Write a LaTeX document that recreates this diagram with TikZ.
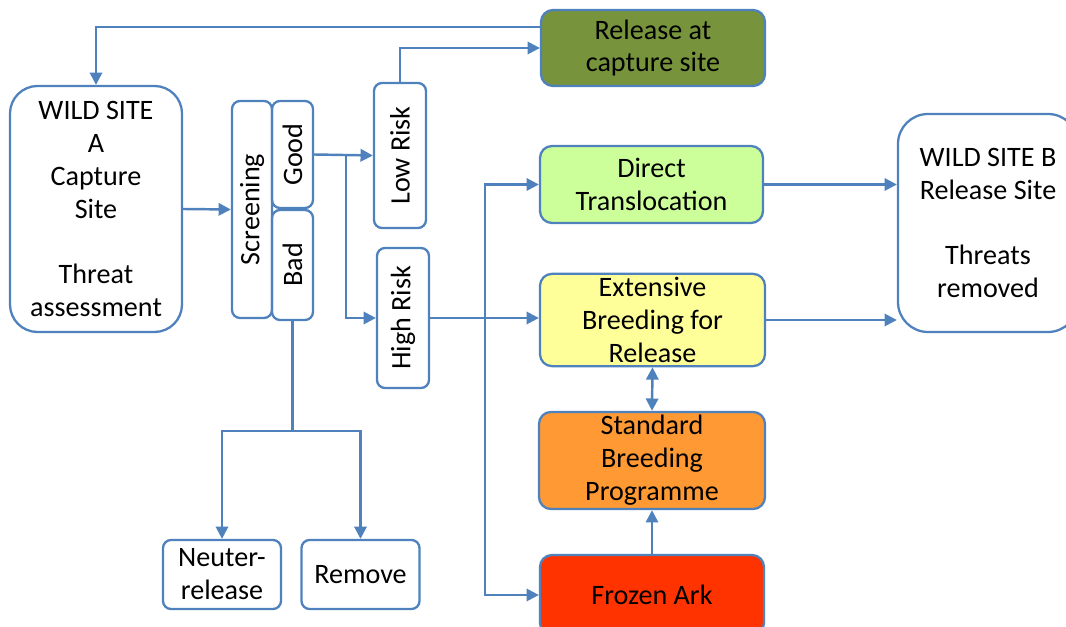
\documentclass[tikz,border=0pt]{standalone}
\usepackage{fontspec}
\setmainfont{Carlito}
\usetikzlibrary{positioning,arrows.meta}
\definecolor{frameblue}{HTML}{4F81BD}
\definecolor{olivegreen}{HTML}{77933C}
\definecolor{palegreen}{HTML}{CCFF99}
\definecolor{paleyellow}{HTML}{FFFF99}
\definecolor{breedorange}{HTML}{FF9933}
\definecolor{arkred}{HTML}{FF3300}
\begin{document}
\begin{tikzpicture}[
    font=\fontsize{16}{18.7}\selectfont,
    box/.style={draw=frameblue, line width=1.3pt, rounded corners=0.16cm, align=center, inner sep=2pt},
    vbox/.style={box, rotate=90},
    stage/.style={box, rounded corners=0.24cm, minimum width=4.48cm, minimum height=1.54cm},
    site/.style={box, rounded corners=0.55cm, minimum width=3.44cm},
    link/.style={draw=frameblue, line width=1.4pt, -{Triangle[length=7pt,width=7pt]}},
    ]
    \useasboundingbox (0,0) rectangle (21.32,-12.54);
    \node [site, minimum height=4.92cm] (siteA) at (1.92,-4.18) {WILD SITE\\A\\Capture\\Site\\ \strut\\Threat\\assessment};
    \node [vbox, minimum width=4.34cm, minimum height=0.8cm] (screen) at (5.04,-4.19) {Screening};
    \node [vbox, minimum width=2.14cm, minimum height=0.82cm] (good) at (5.85,-3.09) {Good};
    \node [vbox, minimum width=2.2cm, minimum height=0.82cm] (bad) at (5.85,-5.30) {Bad};
    \node [vbox, minimum width=2.9cm, minimum height=1.04cm] (low) at (8.00,-3.11) {Low Risk};
    \node [vbox, minimum width=2.8cm, minimum height=1.04cm] (high) at (8.06,-6.36) {High Risk};
    \node [stage, fill=olivegreen, minimum height=1.52cm] (release) at (13.06,-0.96) {Release at\\capture site};
    \node [stage, fill=palegreen, minimum width=4.46cm] (direct) at (13.03,-3.69) {Direct\\Translocation};
    \node [stage, fill=paleyellow, minimum width=4.5cm, minimum height=1.84cm] (ext) at (13.05,-6.40) {Extensive\\Breeding for\\Release};
    \node [stage, fill=breedorange, minimum width=4.52cm, minimum height=1.86cm] (std) at (13.04,-9.21) {Standard\\Breeding\\Programme};
    \node [stage, fill=arkred, minimum height=1.6cm] (frozen) at (13.04,-11.90) {Frozen Ark};
    \node [site, rounded corners=0.6cm, minimum width=3.6cm, minimum height=4.36cm] (siteB) at (19.76,-4.46) {WILD SITE B\\Release Site\\ \strut\\Threats\\removed};
    \node [box, minimum width=2.36cm, minimum height=1.38cm] (neuter) at (4.44,-11.49) {Neuter-\\release};
    \node [box, minimum width=2.36cm, minimum height=1.38cm] (remove) at (7.21,-11.49) {Remove};
    \coordinate (gsplit) at ([xshift=0.64cm]good.south);
    \coordinate (trunk) at ([xshift=1.1cm]high.south);
    \coordinate (bsplit) at ([yshift=-2.2cm]bad.west);
    \draw [link] ([yshift=0.42cm]release.west) -| (siteA.north);
    \draw [link] (low.east) |- (release.west);
    \draw [link] (siteA.east) -- (screen.north);
    \draw [link] (good.south) -- (low.north);
    \draw [link] (gsplit) |- (high.north);
    \draw [link] (high.south) -- (high.south -| ext.west);
    \draw [link] (trunk) |- (direct.west);
    \draw [link] (trunk) |- (frozen.west);
    \draw [link] (direct.east) -- (direct.east -| siteB.west);
    \draw [link] (ext.east) -- (ext.east -| siteB.west);
    \draw [link, {Triangle[length=7pt,width=7pt]}-{Triangle[length=7pt,width=7pt]}] (ext.south) -- (std.north);
    \draw [link] (frozen.north) -- (std.south);
    \draw [frameblue, line width=1.4pt] (bad.west) -- (bsplit);
    \draw [link] (bsplit) -| (neuter.north);
    \draw [link] (bsplit) -| (remove.north);
\end{tikzpicture}
\end{document}
